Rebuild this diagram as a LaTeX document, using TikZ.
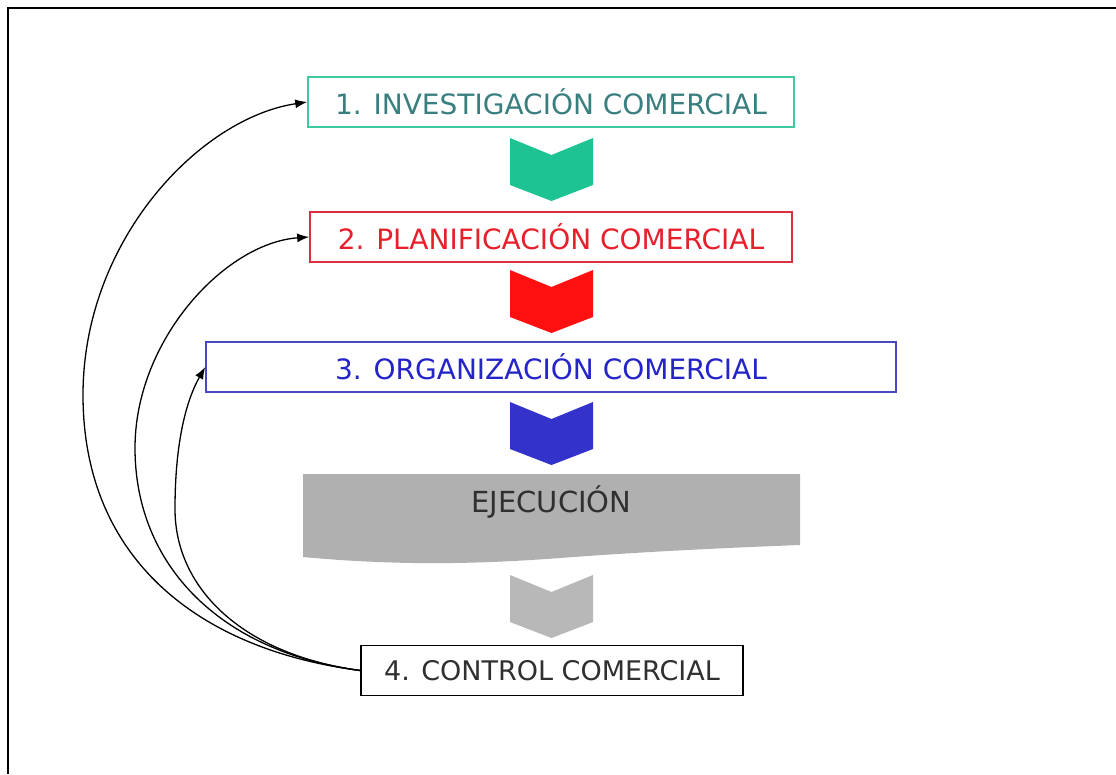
\documentclass[tikz,border=0pt]{standalone}
\usepackage{fontspec}
\setmainfont{DejaVu Sans}
\usetikzlibrary{arrows.meta}
\definecolor{tealborder}{HTML}{40C8A0}
\definecolor{tealtext}{HTML}{3A7F80}
\definecolor{tealfill}{HTML}{1DC393}
\definecolor{redborder}{HTML}{D83040}
\definecolor{redtext}{HTML}{E8202C}
\definecolor{redfill}{HTML}{FF1010}
\definecolor{blueborder}{HTML}{4848C0}
\definecolor{bluetext}{HTML}{2424C8}
\definecolor{bluefill}{HTML}{3333CC}
\definecolor{grayfill}{HTML}{B0B0B0}
\definecolor{graychev}{HTML}{B8B8B8}
\definecolor{darktext}{HTML}{303030}
\tikzset{
  stagebox/.style={draw, line width=1.6pt, fill=white, inner sep=0pt, minimum height=50pt,
    font=\fontsize{28}{32}\selectfont},
  feedback/.style={draw=black, line width=1.3pt, -{Latex[length=12pt,width=9pt]}}
}
\newcommand{\chev}[2]{% top y, colour
  \fill[#2] (510,#1) -- (551.5,#1+17) -- (593,#1) -- (593,#1+47) -- (551.5,#1+63) -- (510,#1+47) -- cycle;}
\begin{document}
\begin{tikzpicture}[x=1pt,y=-1pt]
\useasboundingbox (0,0) rectangle (1116,774);
\fill[white] (0,0) rectangle (1116,774);
% frame
\draw[line width=2pt] (8,774) -- (8,8) -- (1116,8);
% stage boxes
\node[stagebox, draw=tealborder, text=tealtext, minimum width=486pt] (b1) at (551,102) {1. INVESTIGACIÓN COMERCIAL};
\node[stagebox, draw=redborder, text=redtext, minimum width=482pt] (b2) at (551,237) {2. PLANIFICACIÓN COMERCIAL};
\node[stagebox, draw=blueborder, text=bluetext, minimum width=690pt] (b3) at (551,367) {3. ORGANIZACIÓN COMERCIAL};
% chevrons
\chev{138}{tealfill}
\chev{270}{redfill}
\chev{402}{bluefill}
\chev{575}{graychev}
% execution banner
\fill[grayfill] (303,474) -- (800,474) -- (800,545)
  .. controls (720,548) and (640,552) .. (560,558)
  .. controls (480,564) and (400,566) .. (303,557) -- cycle;
\node[font=\fontsize{29}{32}\selectfont, text=darktext] (ej) at (551.5,502) {EJECUCIÓN};
% control box
\node[stagebox, draw=black, line width=1.3pt, text=darktext, minimum width=382pt,
  font=\fontsize{27}{30}\selectfont] (b4) at (552,670.5) {4. CONTROL COMERCIAL};
% feedback arrows
\coordinate (m1) at (83,395);
\coordinate (m2) at (135,448);
\coordinate (m3) at (175,509);
\draw[feedback] (b4.west) .. controls (200,650) and (83,560) .. (m1)
  .. controls (83,240) and (200,118) .. (b1.west);
\draw[feedback] (b4.west) .. controls (220,652) and (135,565) .. (m2)
  .. controls (135,340) and (225,243) .. (b2.west);
\draw[feedback] (b4.west) .. controls (245,655) and (175,590) .. (m3)
  .. controls (175,440) and (187,399) .. (b3.west);
\end{tikzpicture}
\end{document}
